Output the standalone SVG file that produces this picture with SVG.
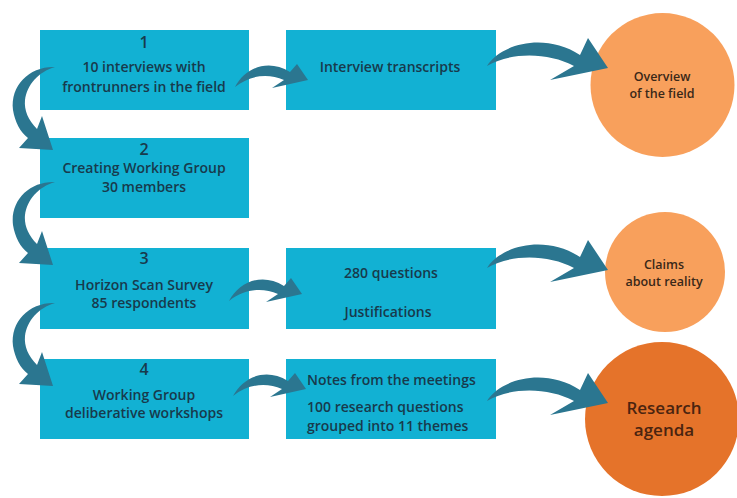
<svg xmlns="http://www.w3.org/2000/svg" width="737" height="498" viewBox="0 0 737 498">
<style>
.box{fill:#12b1d3}
.t{font-family:"Open Sans","Liberation Sans",sans-serif;font-size:14px;font-weight:600;fill:#183a4c;text-anchor:middle}
.l{text-anchor:start}
.num{font-size:16px}
.c1{fill:#f8a05c}
.c2{fill:#e5732a}
.ct{font-family:"Open Sans","Liberation Sans",sans-serif;font-size:12.5px;font-weight:600;fill:#3a2818;text-anchor:middle}
.big{font-size:17px;fill:#4a2410}
.arr{fill:#2b7690}
</style>
<defs>
<path id="va" d="M55,67 C30,66 10,85 13,110 C15,122 20,132 28,138 L19,148 L53,150 L42,116 L37,129 C28,120 24,110 25,100 C27,85 38,72 55,67 Z"/>
<path id="sa" d="M235,87 C245,68 268,58 290,72 L297,64 L308,80 L272,88 L284,80 C268,73 250,75 235,87 Z"/>
<path id="ba" d="M487,66 C500,44 545,32 580,55 L588,38 L608,68 L550,80 L574,66 C548,52 510,52 487,66 Z"/>
</defs>
<rect width="737" height="498" fill="#ffffff"/>
<g id="step1">
<rect class="box" x="40" y="30" width="209" height="80"/>
<text class="t num" x="144" y="48">1</text>
<text class="t" x="144" y="72">10 interviews with</text>
<text class="t" x="144" y="92">frontrunners in the field</text>
</g>
<g id="step2">
<rect class="box" x="40" y="138" width="209" height="80"/>
<text class="t num" x="144" y="155">2</text>
<text class="t" x="144" y="173">Creating Working Group</text>
<text class="t" x="144" y="192">30 members</text>
</g>
<g id="step3">
<rect class="box" x="40" y="248" width="209" height="81"/>
<text class="t num" x="144" y="264">3</text>
<text class="t" x="144" y="290">Horizon Scan Survey</text>
<text class="t" x="144" y="308">85 respondents</text>
</g>
<g id="step4">
<rect class="box" x="40" y="359" width="209" height="80"/>
<text class="t num" x="144" y="375">4</text>
<text class="t" x="144" y="400">Working Group</text>
<text class="t" x="144" y="418">deliberative workshops</text>
</g>
<g id="transcripts">
<rect class="box" x="286" y="30" width="210" height="80"/>
<text class="t" x="390" y="72">Interview transcripts</text>
</g>
<g id="questions">
<rect class="box" x="286" y="248" width="210" height="81"/>
<text class="t" x="391" y="278">280 questions</text>
<text class="t" x="388" y="317">Justifications</text>
</g>
<g id="notes">
<rect class="box" x="286" y="359" width="210" height="80"/>
<text class="t l" x="307" y="385">Notes from the meetings</text>
<text class="t l" x="307" y="412">100 research questions</text>
<text class="t l" x="307" y="431">grouped into 11 themes</text>
</g>
<g id="overview">
<circle class="c1" cx="662.5" cy="85" r="72"/>
<text class="ct" x="662" y="81">Overview</text>
<text class="ct" x="662" y="98">of the field</text>
</g>
<g id="claims">
<circle class="c1" cx="665" cy="272" r="60"/>
<text class="ct" x="664" y="269">Claims</text>
<text class="ct" x="664" y="286">about reality</text>
</g>
<g id="agenda">
<circle class="c2" cx="662" cy="419" r="77"/>
<text class="ct big" x="664" y="414">Research</text>
<text class="ct big" x="664" y="436">agenda</text>
</g>
<g id="connectors" class="arr">
<use href="#va"/>
<use href="#va" transform="translate(0,115)"/>
<use href="#va" transform="translate(0,236)"/>
<use href="#sa"/>
<use href="#sa" transform="translate(-6,214)"/>
<use href="#sa" transform="translate(-2,309)"/>
<use href="#ba"/>
<use href="#ba" transform="translate(0,202)"/>
<use href="#ba" transform="translate(0,335)"/>
</g>
</svg>
